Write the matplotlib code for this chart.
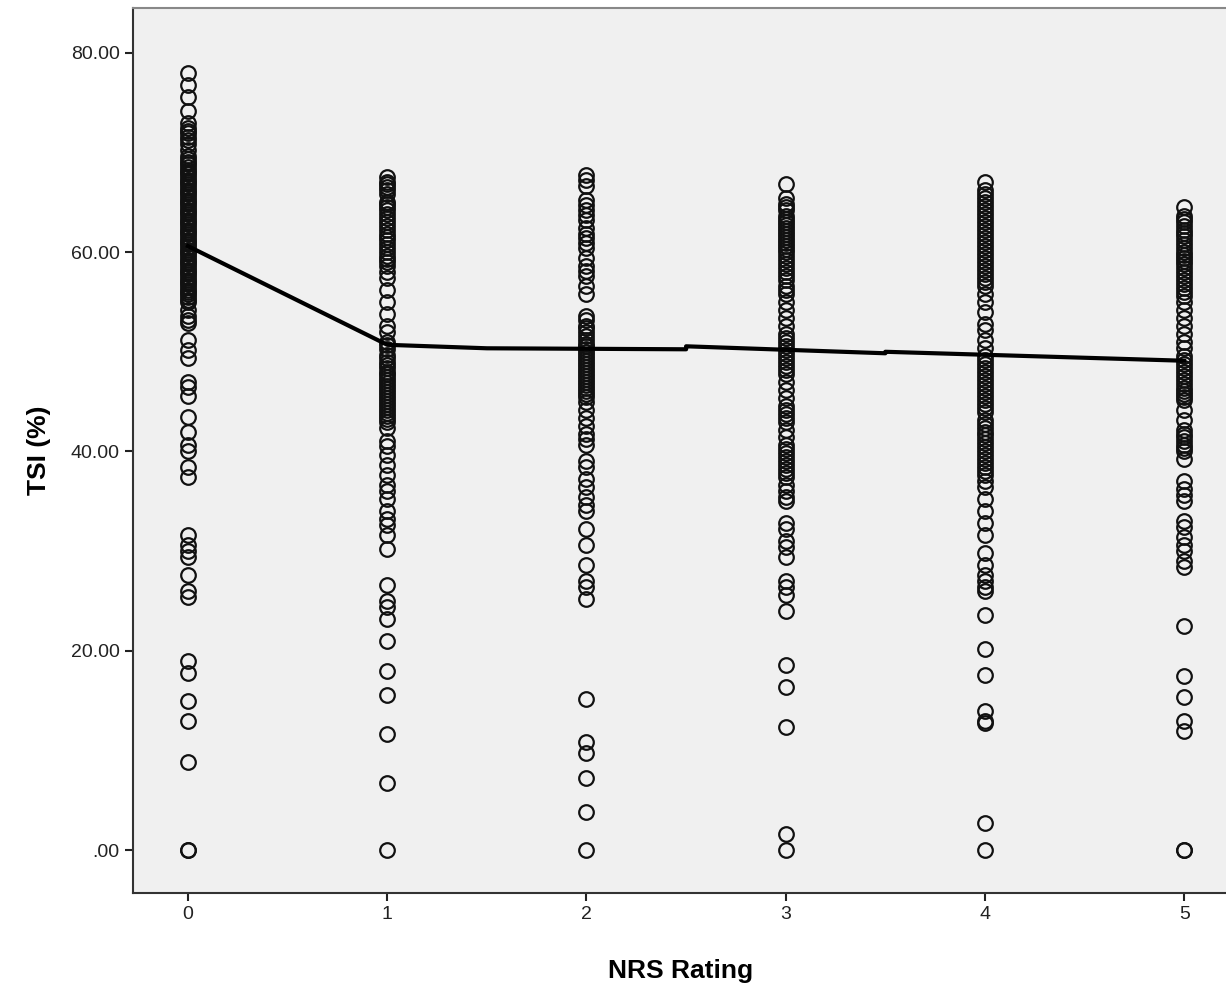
import numpy as np
import matplotlib.pyplot as plt
from matplotlib.ticker import FuncFormatter

plt.rcParams['font.family'] = ['Liberation Sans', 'DejaVu Sans']

# valores TSI por cada nivel NRS
nrs_0 = [78.0, 76.8, 75.6, 74.2, 73.0, 72.5, 72.0, 71.5, 70.8, 70.2, 69.6, 69.0, 68.5, 68.0,
         67.5, 67.0, 66.5, 66.0, 65.5, 65.0, 64.5, 64.0, 63.5, 63.0, 62.5, 62.0, 61.5, 61.0,
         60.5, 60.0, 59.5, 59.0, 58.5, 58.0, 57.5, 57.0, 56.5, 56.0, 55.5, 55.0, 54.2, 53.6,
         53.2, 51.2, 50.2, 49.4, 47.0, 46.5, 45.6, 43.5, 42.0, 40.6, 40.0, 38.4, 37.4, 31.6,
         30.6, 30.0, 29.4, 27.6, 26.0, 25.4, 19.0, 17.8, 15.0, 13.0, 8.8, 0.0, 0.0,
         69.3, 68.8, 68.2, 67.8, 67.2, 66.8, 66.2, 65.8, 65.2, 64.8, 64.2, 63.8, 63.2, 62.8,
         62.2, 61.8, 61.2, 60.8, 60.2, 59.8, 59.2, 58.8, 58.2, 57.8, 57.2, 56.8, 56.2, 55.8,
         55.2, 71.2, 72.2, 52.9]
nrs_1 = [67.5, 67.0, 66.5, 65.8, 65.0, 64.5, 63.8, 63.0, 62.2, 61.5, 60.8, 60.0, 59.3, 58.6,
         58.0, 57.4, 56.2, 55.0, 53.8, 52.6, 52.0, 51.0, 50.3, 49.7, 49.0, 48.4, 47.8, 47.2,
         46.6, 46.0, 45.4, 44.8, 44.2, 43.6, 43.0, 42.4, 41.0, 40.5, 39.6, 38.6, 37.6, 36.6,
         36.0, 35.2, 34.0, 33.2, 32.6, 31.6, 30.2, 26.6, 25.0, 24.4, 23.2, 21.0, 18.0, 15.6,
         11.7, 6.7, 0.0,
         66.8, 66.2, 64.8, 64.2, 63.4, 62.6, 61.8, 61.2, 60.4, 59.6, 59.0, 49.4, 48.7, 48.0,
         47.5, 46.9, 46.3, 45.7, 45.1, 44.5, 43.9, 43.3, 50.7]
nrs_2 = [67.7, 67.2, 66.6, 65.2, 64.2, 63.2, 62.4, 61.4, 60.4, 59.4, 58.6, 57.6, 56.6, 55.8,
         53.6, 53.2, 52.6, 52.0, 51.2, 50.6, 50.0, 49.4, 48.8, 48.2, 47.6, 47.0, 46.4, 45.8,
         45.0, 44.2, 43.4, 42.6, 41.8, 41.2, 40.6, 39.0, 38.4, 37.2, 36.4, 35.4, 34.6, 34.0,
         32.2, 30.6, 28.6, 27.0, 26.4, 25.2, 15.2, 10.8, 9.7, 7.2, 3.8, 0.0,
         52.4, 51.6, 50.8, 50.3, 49.7, 49.1, 48.5, 47.9, 47.3, 46.7, 46.1, 45.5, 61.8, 60.9,
         58.1, 64.7, 63.7]
nrs_3 = [66.8, 65.4, 64.8, 64.2, 63.6, 63.0, 62.4, 61.8, 61.2, 60.6, 60.0, 59.2, 58.4, 57.6,
         56.6, 55.8, 55.0, 54.2, 53.4, 52.6, 51.8, 51.0, 50.2, 49.4, 48.6, 47.8, 47.0, 46.2,
         45.4, 44.6, 43.8, 43.0, 42.2, 41.4, 40.6, 39.8, 39.0, 38.2, 37.4, 36.6, 36.0, 35.4,
         35.0, 32.8, 32.2, 31.0, 30.4, 29.4, 27.0, 26.4, 25.6, 24.0, 18.6, 16.4, 12.4, 1.6, 0.0,
         64.5, 63.3, 62.7, 62.1, 61.5, 60.9, 60.3, 59.6, 58.8, 58.0, 57.2, 56.2, 51.4, 50.6,
         49.8, 49.0, 48.2, 44.2, 43.4, 40.2, 39.4, 38.6, 37.8]
nrs_4 = [67.0, 66.2, 65.4, 64.6, 63.8, 63.0, 62.2, 61.4, 60.6, 59.8, 59.0, 58.2, 57.4, 56.6,
         55.8, 55.0, 54.0, 52.8, 52.2, 51.2, 50.4, 49.6, 48.8, 48.0, 47.2, 46.4, 45.6, 44.8,
         44.0, 43.2, 42.4, 41.6, 40.8, 40.0, 39.2, 38.4, 37.6, 37.0, 36.4, 35.2, 34.0, 32.8,
         31.6, 29.8, 28.6, 27.6, 27.0, 26.4, 26.0, 23.6, 20.2, 17.6, 14.0, 13.0, 12.8, 2.7, 0.0,
         65.8, 65.0, 64.2, 63.4, 62.6, 61.8, 61.0, 60.2, 59.4, 58.6, 57.8, 57.0, 49.2, 48.4,
         47.6, 46.8, 46.0, 45.2, 44.4, 42.8, 42.0, 41.2, 40.4, 39.6, 38.8, 38.0]
nrs_5 = [64.5, 63.6, 63.0, 62.2, 61.6, 60.8, 60.0, 59.4, 58.8, 58.0, 57.2, 56.4, 55.6, 55.0,
         54.2, 53.4, 52.6, 51.8, 51.0, 50.4, 49.6, 48.8, 48.0, 47.2, 46.4, 45.8, 45.2, 44.2,
         43.2, 42.2, 41.4, 40.6, 40.0, 39.2, 37.0, 36.2, 35.6, 35.0, 33.0, 32.4, 31.4, 30.6,
         30.0, 29.0, 28.4, 22.5, 17.5, 15.4, 13.0, 12.0, 0.0, 0.0,
         63.3, 62.6, 61.9, 61.2, 60.4, 59.7, 59.1, 58.4, 57.6, 56.8, 56.0, 49.2, 48.4, 47.6,
         46.8, 46.1, 45.5, 41.8, 41.0, 40.3]
valores = [nrs_0, nrs_1, nrs_2, nrs_3, nrs_4, nrs_5]

# linea de ajuste
linea_x = [0, 1, 1.5, 2.5, 2.5, 3.5, 3.5, 5]
linea_y = [60.6, 50.7, 50.35, 50.25, 50.55, 49.85, 50.0, 49.1]

figura = plt.figure(figsize=(12.26, 9.9), dpi=100)
lienzo = figura.add_axes([0.1085, 0.098, 0.8925, 0.894])
lienzo.set_facecolor('#f0f0f0')

for nivel, datos in enumerate(valores):
    lienzo.plot([nivel] * len(datos), datos, 'o', markersize=10.5, markerfacecolor='none',
                markeredgecolor='#111111', markeredgewidth=1.6, zorder=2)

lienzo.plot(linea_x, linea_y, color='black', linewidth=3, zorder=3)

lienzo.set_xlim(-0.276, 5.216)
lienzo.set_ylim(-4.3, 84.5)
lienzo.set_xticks(range(6))
lienzo.set_yticks([0, 20, 40, 60, 80])
lienzo.yaxis.set_major_formatter(FuncFormatter(lambda v, p: '.00' if v == 0 else '%.2f' % v))
lienzo.tick_params(direction='out', length=6, width=1.5, labelsize=14, colors='#222222')

for lado in ['left', 'bottom']:
    lienzo.spines[lado].set_color('#333333')
    lienzo.spines[lado].set_linewidth(1.5)
lienzo.spines['top'].set_color('#888888')
lienzo.spines['top'].set_linewidth(1.5)
lienzo.spines['right'].set_visible(False)

lienzo.set_xlabel('NRS Rating', fontsize=19, fontweight='bold', labelpad=26)
lienzo.set_ylabel('TSI (%)', fontsize=19, fontweight='bold', labelpad=14)

figura.savefig('out.png', dpi=100)
